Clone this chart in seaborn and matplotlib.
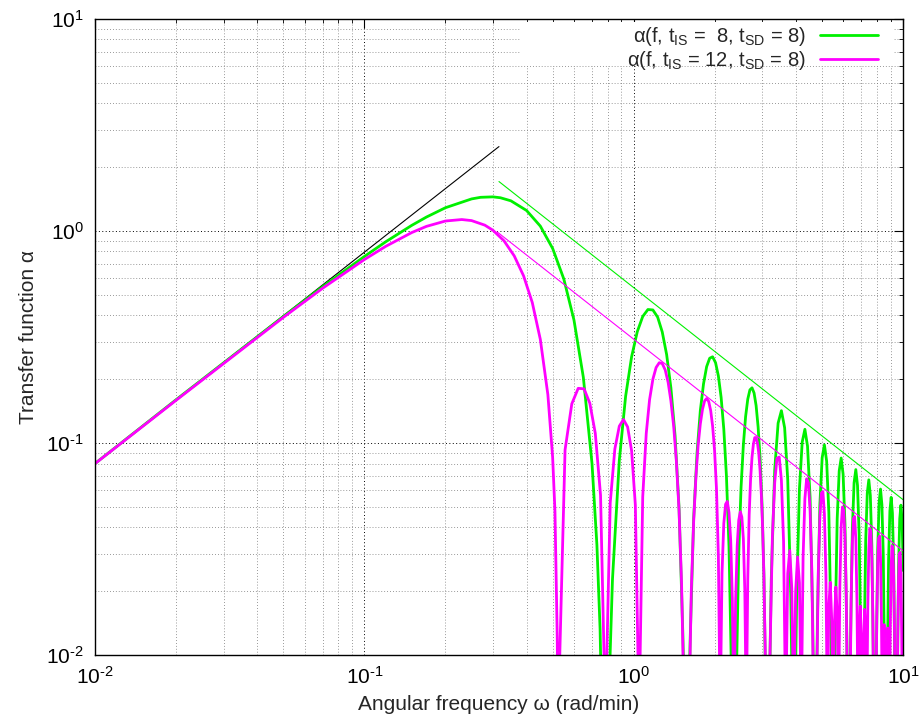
import math
import pandas as pd
import seaborn as sns
import matplotlib
matplotlib.use("Agg")
import matplotlib.pyplot as plt
from matplotlib.patches import Rectangle
from matplotlib.ticker import LogLocator, FuncFormatter, NullFormatter

# values (omega in rad/min, alpha = transfer function)
# straight asymptote lines
slope_w = [0.01, 0.316]
slope_a = [0.08, 2.5]
env_green_w = [0.316, 10.0]
env_green_a = [1.71, 0.054]
env_mag_w = [0.311, 10.0]
env_mag_a = [0.99, 0.031]

# alpha(f, t_IS = 8, t_SD = 8)  (dips below 1e-2 are cut by the axis)
green_w = [0.01, 0.02, 0.05, 0.07, 0.1, 0.12, 0.15, 0.17, 0.2, 0.25, 0.27, 0.3,
           0.32, 0.35, 0.4, 0.45, 0.5, 0.55, 0.6, 0.65, 0.7, 0.73, 0.75, 0.77,
           0.785, 0.834, 0.884, 0.933, 0.982, 1.031, 1.080, 1.129,
           1.178, 1.227, 1.276, 1.325, 1.374, 1.424, 1.473, 1.522,
           1.571, 1.620, 1.669, 1.718, 1.767, 1.816, 1.865, 1.914,
           1.963, 2.013, 2.062, 2.111, 2.160, 2.209, 2.258, 2.307,
           2.356, 2.405, 2.454, 2.503, 2.553, 2.602, 2.651, 2.700,
           2.749, 2.798, 2.847, 2.896, 2.945, 2.994, 3.043, 3.093,
           3.142, 3.240, 3.338, 3.436, 3.534, 3.633, 3.731, 3.829,
           3.927, 4.025, 4.123, 4.222, 4.320, 4.418, 4.516, 4.614,
           4.712, 4.811, 4.909, 5.007, 5.105, 5.203, 5.301, 5.400,
           5.498, 5.596, 5.694, 5.792, 5.890, 5.989, 6.087, 6.185,
           6.283, 6.381, 6.480, 6.578, 6.676, 6.774, 6.872, 6.970,
           7.069, 7.167, 7.265, 7.363, 7.461, 7.559, 7.658, 7.756,
           7.854, 7.952, 8.050, 8.149, 8.247, 8.345, 8.443, 8.541,
           8.639, 8.738, 8.836, 8.934, 9.032, 9.130, 9.228, 9.327,
           9.425, 9.523, 9.621, 9.719, 9.817, 9.916, 10.014]
green_a = [0.080, 0.160, 0.395, 0.546, 0.758, 0.889, 1.063, 1.163, 1.287, 1.416, 1.441, 1.448,
           1.434, 1.387, 1.249, 1.054, 0.827, 0.594, 0.380, 0.204, 0.080, 0.033, 0.0133, 0.0025,
           0.002, 0.0228, 0.0828, 0.166, 0.255, 0.335, 0.395, 0.426,
           0.424, 0.392, 0.334, 0.261, 0.182, 0.108, 0.0497, 0.0125,
           0.002, 0.0117, 0.0439, 0.0898, 0.142, 0.190, 0.229, 0.251,
           0.255, 0.239, 0.207, 0.164, 0.116, 0.0699, 0.0324, 0.0082,
           0.002, 0.0079, 0.0298, 0.0617, 0.0979, 0.133, 0.161, 0.178,
           0.182, 0.172, 0.150, 0.119, 0.0849, 0.0515, 0.0241, 0.0062,
           0.002, 0.0226, 0.0749, 0.124, 0.142, 0.118, 0.0670, 0.0191,
           0.002, 0.0182, 0.0606, 0.101, 0.116, 0.0966, 0.0554, 0.0159,
           0.002, 0.0152, 0.0509, 0.0852, 0.0979, 0.0820, 0.0472, 0.0136,
           0.002, 0.0131, 0.0439, 0.0737, 0.0849, 0.0713, 0.0411, 0.0118,
           0.002, 0.0115, 0.0386, 0.0649, 0.0749, 0.0630, 0.0364, 0.0105,
           0.002, 0.0102, 0.0344, 0.0580, 0.0670, 0.0565, 0.0326, 0.0094,
           0.002, 0.0092, 0.0311, 0.0524, 0.0606, 0.0511, 0.0296, 0.0086,
           0.002, 0.0084, 0.0283, 0.0478, 0.0554, 0.0467, 0.0271, 0.0079,
           0.002, 0.0077, 0.0260, 0.0439, 0.0509, 0.0430, 0.0250]

# alpha(f, t_IS = 12, t_SD = 8)
mag_w = [0.01, 0.02, 0.05, 0.07, 0.1, 0.12, 0.15, 0.17, 0.2, 0.23, 0.25,
         0.28, 0.3, 0.33, 0.36, 0.39, 0.42, 0.45, 0.48, 0.5, 0.51, 0.52,
         0.524, 0.556, 0.589, 0.622, 0.654, 0.687, 0.720, 0.753,
         0.785, 0.818, 0.851, 0.884, 0.916, 0.949, 0.982, 1.014,
         1.047, 1.080, 1.113, 1.145, 1.178, 1.211, 1.244, 1.276,
         1.309, 1.342, 1.374, 1.407, 1.440, 1.473, 1.505, 1.538,
         1.571, 1.604, 1.636, 1.669, 1.702, 1.734, 1.767, 1.800,
         1.833, 1.865, 1.898, 1.931, 1.963, 1.996, 2.029, 2.062,
         2.094, 2.127, 2.160, 2.193, 2.225, 2.258, 2.291, 2.323,
         2.356, 2.389, 2.422, 2.454, 2.487, 2.520, 2.553, 2.585,
         2.618, 2.651, 2.683, 2.716, 2.749, 2.782, 2.814, 2.847,
         2.880, 2.913, 2.945, 2.978, 3.011, 3.043, 3.076, 3.109,
         3.142, 3.207, 3.272, 3.338, 3.403, 3.469, 3.534, 3.600,
         3.665, 3.731, 3.796, 3.862, 3.927, 3.992, 4.058, 4.123,
         4.189, 4.254, 4.320, 4.385, 4.451, 4.516, 4.581, 4.647,
         4.712, 4.778, 4.843, 4.909, 4.974, 5.040, 5.105, 5.171,
         5.236, 5.301, 5.367, 5.432, 5.498, 5.563, 5.629, 5.694,
         5.760, 5.825, 5.890, 5.956, 6.021, 6.087, 6.152, 6.218,
         6.283, 6.349, 6.414, 6.480, 6.545, 6.610, 6.676, 6.741,
         6.807, 6.872, 6.938, 7.003, 7.069, 7.134, 7.199, 7.265,
         7.330, 7.396, 7.461, 7.527, 7.592, 7.658, 7.723, 7.789,
         7.854, 7.919, 7.985, 8.050, 8.116, 8.181, 8.247, 8.312,
         8.378, 8.443, 8.508, 8.574, 8.639, 8.705, 8.770, 8.836,
         8.901, 8.967, 9.032, 9.098, 9.163, 9.228, 9.294, 9.359,
         9.425, 9.490, 9.556, 9.621, 9.687, 9.752, 9.817, 9.883,
         9.948, 10.014]
mag_a = [0.0799, 0.159, 0.391, 0.537, 0.733, 0.846, 0.983, 1.051, 1.114, 1.132, 1.119,
         1.065, 1.008, 0.898, 0.763, 0.614, 0.460, 0.308, 0.169, 0.0855, 0.0475, 0.0121,
         0.005, 0.0928, 0.153, 0.181, 0.180, 0.154, 0.111, 0.0567,
         0.005, 0.0522, 0.0937, 0.120, 0.129, 0.119, 0.0919, 0.0509,
         0.005, 0.0557, 0.111, 0.160, 0.200, 0.227, 0.239, 0.237,
         0.221, 0.193, 0.158, 0.120, 0.0819, 0.0481, 0.0219, 0.0055,
         0.002, 0.0053, 0.0202, 0.0425, 0.0693, 0.0973, 0.123, 0.144,
         0.158, 0.162, 0.157, 0.142, 0.120, 0.0920, 0.0607, 0.0292,
         0.005, 0.0243, 0.0418, 0.0514, 0.0530, 0.0470, 0.0348, 0.0184,
         0.005, 0.0179, 0.0329, 0.0432, 0.0474, 0.0447, 0.0353, 0.0200,
         0.005, 0.0227, 0.0459, 0.0676, 0.0857, 0.0988, 0.106, 0.106,
         0.100, 0.0891, 0.0739, 0.0567, 0.0392, 0.0233, 0.0107, 0.0027,
         0.002, 0.0103, 0.0360, 0.0652, 0.0848, 0.0858, 0.0667, 0.0342,
         0.005, 0.0242, 0.0311, 0.0206, 0.005, 0.0200, 0.0290, 0.0219,
         0.005, 0.0290, 0.0546, 0.0678, 0.0649, 0.0482, 0.0257, 0.0071,
         0.002, 0.0069, 0.0243, 0.0444, 0.0580, 0.0590, 0.0462, 0.0238,
         0.005, 0.0170, 0.0220, 0.0147, 0.005, 0.0143, 0.0209, 0.0158,
         0.005, 0.0212, 0.0400, 0.0499, 0.0479, 0.0358, 0.0192, 0.0053,
         0.002, 0.0052, 0.0184, 0.0336, 0.0441, 0.0450, 0.0353, 0.0183,
         0.005, 0.0131, 0.0170, 0.0114, 0.005, 0.0112, 0.0164, 0.0124,
         0.005, 0.0167, 0.0316, 0.0395, 0.0380, 0.0284, 0.0153, 0.0042,
         0.002, 0.0042, 0.0148, 0.0271, 0.0356, 0.0364, 0.0286, 0.0148,
         0.005, 0.0107, 0.0139, 0.0093, 0.005, 0.0092, 0.0134, 0.0102,
         0.005, 0.0137, 0.0261, 0.0327, 0.0315, 0.0236, 0.0127, 0.0035,
         0.002, 0.0035, 0.0123, 0.0226, 0.0298, 0.0305, 0.0240, 0.0125,
         0.005, 0.0090]

label_green = r"α(f, $\mathrm{t_{IS}}$ =  8, $\mathrm{t_{SD}}$ = 8)"
label_mag = r"α(f, $\mathrm{t_{IS}}$ = 12, $\mathrm{t_{SD}}$ = 8)"

sns.set_style("white")
plt.rcParams['font.family'] = ['Liberation Sans', 'DejaVu Sans']
plt.rcParams['mathtext.fontset'] = 'custom'
plt.rcParams['mathtext.rm'] = 'Liberation Sans'
plt.rcParams['mathtext.it'] = 'Liberation Sans:italic'
plt.rcParams['mathtext.bf'] = 'Liberation Sans:bold'
plt.rcParams['axes.unicode_minus'] = False


def decade_label(v, pos):
    # gnuplot style 10^n with a plain hyphen in the exponent
    exp = int(round(math.log10(v)))
    if exp < 0:
        return r'$10^{\text{-}%d}$' % (-exp)
    return r'$10^{%d}$' % exp


fig = plt.figure(figsize=(9.2, 7.23), dpi=100)
ax = fig.add_axes([0.1033, 0.0941, 0.8783, 0.8797])

green = pd.DataFrame({'w': green_w, 'a': green_a})
mag = pd.DataFrame({'w': mag_w, 'a': mag_a})

sns.lineplot(x=slope_w, y=slope_a, ax=ax, color='black', lw=0.8, sort=False, estimator=None)
sns.lineplot(data=green, x='w', y='a', ax=ax, color='#00f000', lw=2.0, sort=False, estimator=None,
             label=label_green)
sns.lineplot(data=mag, x='w', y='a', ax=ax, color='#ff00ff', lw=2.0, sort=False, estimator=None,
             label=label_mag)
sns.lineplot(x=env_green_w, y=env_green_a, ax=ax, color='#00f000', lw=0.8, sort=False, estimator=None)
sns.lineplot(x=env_mag_w, y=env_mag_a, ax=ax, color='#ff00ff', lw=0.8, sort=False, estimator=None)

ax.set_xscale('log')
ax.set_yscale('log')
ax.set_xlim(0.01, 10)
ax.set_ylim(0.01, 10)

for axis in (ax.xaxis, ax.yaxis):
    axis.set_major_locator(LogLocator(base=10))
    axis.set_minor_locator(LogLocator(base=10, subs=range(2, 10)))
    axis.set_major_formatter(FuncFormatter(decade_label))
    axis.set_minor_formatter(NullFormatter())

ax.grid(which='major', color='black', ls=(0, (1, 2.5)), lw=0.7)
ax.grid(which='minor', color='#777777', ls=(0, (1, 2.5)), lw=0.6)
ax.set_axisbelow(True)

ax.tick_params(which='both', direction='in', top=True, right=True, colors='black', labelsize=15)
ax.tick_params(which='major', length=6.5, width=0.8, pad=8)
ax.tick_params(which='minor', length=3.2, width=0.6)
for s in ax.spines.values():
    s.set_color('black')
    s.set_linewidth(1.0)

ax.set_xlabel('Angular frequency ω (rad/min)', fontsize=15, labelpad=5)
ax.set_ylabel('Transfer function α', fontsize=15, labelpad=6)

# white key area, like the gnuplot key box
ax.add_patch(Rectangle((0.526, 0.926), 0.462, 0.069, transform=ax.transAxes,
                       facecolor='white', edgecolor='none', zorder=1.5))
leg = ax.legend(loc='upper right', bbox_to_anchor=(0.987, 1.012), fontsize=14.5, frameon=False,
                markerfirst=False, handlelength=2.9, handletextpad=0.7, labelspacing=0.05,
                borderpad=0.2)

fig.savefig('out.png', dpi=100)
